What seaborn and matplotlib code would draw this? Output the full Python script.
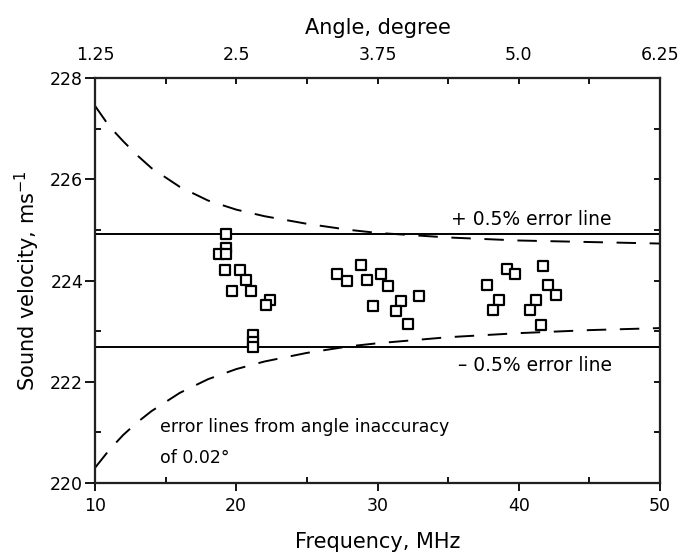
import matplotlib
matplotlib.use("Agg")
import matplotlib.pyplot as plt
from matplotlib.ticker import MultipleLocator, FixedLocator
import seaborn as sns
import pandas as pd

# measured points
freq = [19.27, 19.27, 18.78, 19.27, 19.2, 20.27, 20.67, 19.67, 21.04, 22.39, 22.08,
        21.16, 21.16, 21.16,
        28.81, 27.11, 27.82, 29.23, 30.25, 30.72, 29.66, 31.64, 31.31, 32.96, 32.18,
        39.15, 39.73, 41.69, 37.73, 42.09, 42.64, 38.63, 38.16, 41.22, 40.80, 41.58]
velocity = [224.91, 224.65, 224.52, 224.52, 224.21, 224.21, 224.01, 223.80, 223.80, 223.61, 223.51,
            222.92, 222.79, 222.69,
            224.30, 224.12, 223.99, 224.01, 224.12, 223.90, 223.50, 223.60, 223.40, 223.70, 223.14,
            224.22, 224.12, 224.28, 223.91, 223.91, 223.72, 223.61, 223.42, 223.61, 223.42, 223.12]

# 0.5% error lines
err_plus = 224.91
err_minus = 222.69

# angle-inaccuracy error curves
curve_freq = [10, 11, 12, 13, 14, 16, 18, 20, 22, 25, 28, 30, 35, 40, 45, 50]
curve_upper = [227.45, 227.05, 226.75, 226.47, 226.22, 225.85, 225.58, 225.4, 225.27, 225.12,
               225.0, 224.94, 224.85, 224.79, 224.76, 224.73]
curve_lower = [220.3, 220.65, 220.95, 221.2, 221.42, 221.78, 222.05, 222.25, 222.4, 222.57,
               222.7, 222.76, 222.88, 222.96, 223.02, 223.06]

# tick labels
x_ticks = [10, 20, 30, 40, 50]
y_ticks = [220, 222, 224, 226, 228]
angle_ticks = [1.25, 2.5, 3.75, 5.0, 6.25]
angle_labels = ["1.25", "2.5", "3.75", "5.0", "6.25"]

sns.set_theme(style="ticks")
plt.rcParams['font.family'] = ['DejaVu Sans']
plt.rcParams['text.color'] = 'black'
plt.rcParams['axes.labelcolor'] = 'black'
plt.rcParams['xtick.color'] = 'black'
plt.rcParams['ytick.color'] = 'black'

fig = plt.figure(figsize=(6.82, 5.59), dpi=100)
ax = fig.add_axes([95/682, 1-483/559, 565/682, 405/559])

pts = pd.DataFrame({"freq": freq, "velocity": velocity})
sns.scatterplot(data=pts, x="freq", y="velocity", marker="s", s=50,
                facecolor="white", edgecolor="black", linewidth=1.6, ax=ax, zorder=3)

cur = pd.DataFrame({"freq": curve_freq, "upper": curve_upper, "lower": curve_lower})
for col in ["upper", "lower"]:
    sns.lineplot(data=cur, x="freq", y=col, color="black", lw=1.4, ax=ax)
for ln in ax.lines:
    ln.set_dashes((10, 7))

ax.axhline(err_plus, color="black", lw=1.4)
ax.axhline(err_minus, color="black", lw=1.4)

ax.set_xlim(10, 50)
ax.set_ylim(220, 228)
ax.xaxis.set_major_locator(FixedLocator(x_ticks))
ax.xaxis.set_minor_locator(MultipleLocator(5))
ax.yaxis.set_major_locator(FixedLocator(y_ticks))
ax.yaxis.set_minor_locator(MultipleLocator(1))
ax.tick_params(axis="both", which="both", labelsize=12.5, colors="black", width=1.3)
ax.tick_params(axis="x", which="both", top=False, bottom=True)
ax.tick_params(axis="x", which="major", direction="out", length=6, pad=4)
ax.tick_params(axis="x", which="minor", direction="in", length=4.5)
ax.tick_params(axis="y", which="both", left=True, right=False)
ax.tick_params(axis="y", which="major", direction="out", length=7, pad=1.5)
ax.tick_params(axis="y", which="minor", direction="in", length=4.5)
for sp in ax.spines.values():
    sp.set_linewidth(1.6)
    sp.set_color("black")

# right-side ticks pointing inward at every unit
axr = ax.twinx()
axr.set_ylim(220, 228)
axr.yaxis.set_major_locator(MultipleLocator(1))
axr.tick_params(axis="y", which="major", direction="in", length=4.5, width=1.3,
                labelright=False, right=True, colors="black")
axr.grid(False)

ax.set_xlabel("Frequency, MHz", fontsize=15, labelpad=12)
ax.set_ylabel("Sound velocity, ms$^{-1}$", fontsize=15, labelpad=6)

sec = ax.secondary_xaxis("top", functions=(lambda f: f / 8.0, lambda a: a * 8.0))
sec.xaxis.set_major_locator(FixedLocator(angle_ticks))
sec.set_xticklabels(angle_labels)
sec.xaxis.set_minor_locator(MultipleLocator(0.625))
sec.tick_params(axis="x", which="both", direction="in", length=4.5, width=1.3,
                labelsize=12.5, pad=10, colors="black")
sec.set_xlabel("Angle, degree", fontsize=15, labelpad=9)

ax.text(46.6, 225.02, "+ 0.5% error line", fontsize=13.5, va="bottom", ha="right")
ax.text(46.6, 222.33, "\u2013 0.5% error line", fontsize=13.5, va="center", ha="right")
ax.text(14.6, 221.1, "error lines from angle inaccuracy", fontsize=12.5, va="center", ha="left")
ax.text(14.6, 220.5, "of 0.02\u00b0", fontsize=12.5, va="center", ha="left")

ax.set_facecolor("white")
fig.patch.set_facecolor("white")
fig.savefig("out.png", dpi=100)
